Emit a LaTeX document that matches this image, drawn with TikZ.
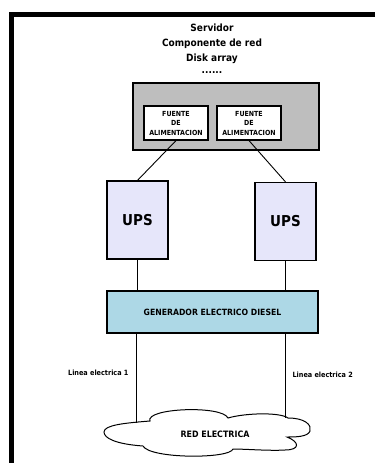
\documentclass[tikz,border=0pt]{standalone}
\usepackage{fontspec}
\setmainfont{DejaVu Sans}[FakeStretch=0.9]
\usepackage{tikz}
\definecolor{upsfill}{RGB}{230,230,250}
\definecolor{genfill}{RGB}{173,216,230}
\definecolor{rackfill}{RGB}{190,190,190}

\begin{document}
\begin{tikzpicture}[x=1pt,y=-1pt,
  fuente/.style={draw,line width=1.2pt,fill=white,minimum width=64pt,minimum height=34pt,inner sep=0pt,align=center,font=\bfseries\fontsize{7}{9.5}\selectfont},
  ups/.style={draw,line width=1.2pt,fill=upsfill,minimum width=61pt,minimum height=78pt,font=\bfseries\fontsize{15}{17}\selectfont},
  cable/.style={line width=0.9pt},
  linea/.style={font=\bfseries\fontsize{7.2}{8}\selectfont}]
 \useasboundingbox (0,0) rectangle (375,463);
 % marco
 \draw[line width=5pt] (375,14.5) -- (11,14.5) -- (11,463);
 \node (titulo) [align=center,font=\bfseries\fontsize{10}{15}\selectfont] at (212,49)
  {Servidor\\Componente de red\\Disk array\\[-3pt]......};
 \node (rack) [draw,line width=1.6pt,fill=rackfill,minimum width=186pt,minimum height=67pt] at (226,116.5) {};
 \node (fa) [fuente] at (176,123) {FUENTE\\DE\\ALIMENTACION};
 \node (fb) [fuente] at (249,123) {FUENTE\\DE\\ALIMENTACION};
 \node (upsa) [ups] at (137.5,220) {UPS};
 \node (upsb) [ups] at (285.5,221.5) {UPS};
 \node (gen) [draw,line width=1.2pt,fill=genfill,minimum width=211pt,minimum height=42pt,font=\bfseries\fontsize{8.6}{10}\selectfont] at (212.5,312) {GENERADOR ELECTRICO DIESEL};
 % nube
 \draw[line width=1pt] (104,432) .. controls (104,425) and (125,423) .. (150,421)
  .. controls (145,408) and (222,405) .. (228,418)
  .. controls (245,413) and (280,412) .. (288,418)
  .. controls (305,418) and (312,425) .. (310,431)
  .. controls (308,437) and (295,437) .. (287,437)
  .. controls (300,442) and (300,450) .. (285,450)
  .. controls (270,451) and (245,449) .. (233,449)
  .. controls (230,459) and (150,459) .. (143,446)
  .. controls (115,444) and (104,438) .. (104,432) -- cycle;
 \node (red) [font=\bfseries\fontsize{8.8}{10}\selectfont] at (215,434) {RED ELECTRICA};
 \coordinate (la) at (136,422.5);
 \coordinate (lb) at (285,417.5);
 \draw[cable] (fa.south) -- (upsa.north);
 \draw[cable] (fb.south) -- (upsb.north);
 \draw[cable] (upsa.south) -- (upsa.south |- gen.north);
 \draw[cable] (upsb.south) -- (upsb.south |- gen.north);
 \draw[cable] (gen.south -| la) -- (la);
 \draw[cable] (gen.south -| lb) -- (lb);
 \node (txa) [linea,anchor=east] at (132,373) {Linea electrica 1};
 \node (txb) [linea,anchor=west] at (289,375) {Linea electrica 2};
\end{tikzpicture}
\end{document}
